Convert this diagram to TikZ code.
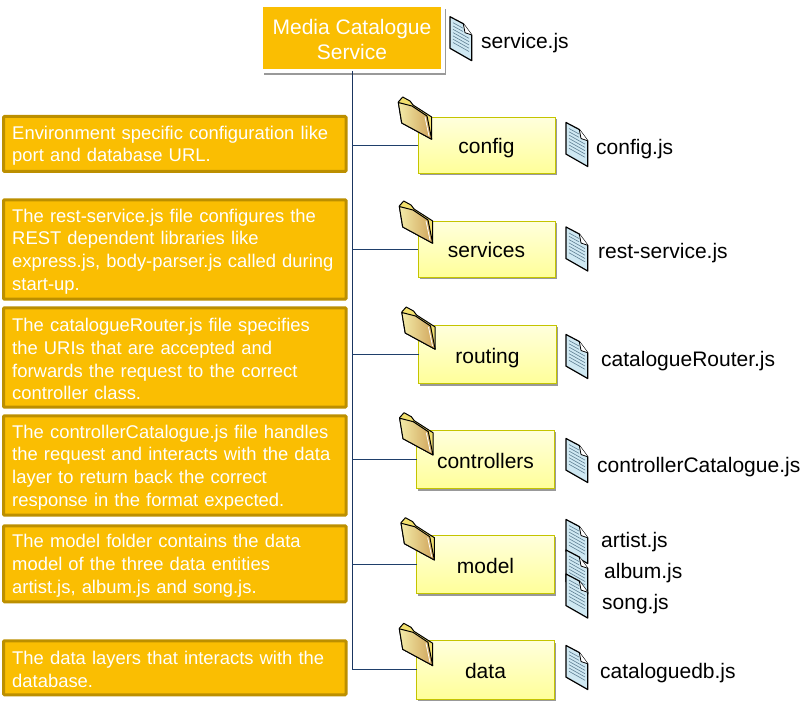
\documentclass[tikz,border=0pt]{standalone}
\usepackage{fontspec}
\setmainfont{Liberation Sans}
\usetikzlibrary{shadows,calc}
\definecolor{amber}{HTML}{FABE02}
\definecolor{amberdk}{HTML}{BC8F00}
\definecolor{trunk}{HTML}{1A3560}
\definecolor{branch}{HTML}{1F3F6B}
\definecolor{foldedge}{HTML}{C4C400}
\definecolor{boxtop}{HTML}{FFFFDC}
\definecolor{boxbot}{HTML}{FFFF99}
\definecolor{paper}{HTML}{CFE8F2}
\definecolor{paperline}{HTML}{5F8094}
\definecolor{fronta}{HTML}{F3EBA8}
\definecolor{frontb}{HTML}{CFA35A}
\definecolor{tabfill}{HTML}{F2E06E}
\tikzset{
  x=1pt,y=-1pt,
  note/.style={draw=amberdk,line width=3pt,fill=amber,rounded corners=1pt,text=white,anchor=north west,outer sep=0pt,inner xsep=8.5pt,inner ysep=0pt,align=left,minimum width=342.5pt,text width=325pt,font=\fontsize{18.4}{22.7}\selectfont,execute at begin node={\rule{0pt}{17pt}}},
  folderbox/.style={draw=foldedge,line width=1pt,top color=boxtop,bottom color=boxbot,minimum width=138pt,anchor=north west,outer sep=0pt,inner sep=0pt,text height=21pt,text depth=4pt,font=\fontsize{21}{24}\selectfont,text=black,drop shadow={shadow xshift=1.5pt,shadow yshift=-2pt,fill=black,opacity=0.4}},
  filelabel/.style={anchor=west,inner sep=0pt,yshift=-2pt,font=\fontsize{21}{24}\selectfont,text=black},
  link/.style={draw=branch,line width=1pt},
  fileicon/.pic={
    \draw[fill=paper,draw=black,line width=1.2pt,line join=round]
      (0,0) -- (13.3,7) -- (21.7,18.3) -- (21.7,44) -- (0,31.6) -- cycle;
    \foreach \i in {0,...,6}{
      \draw[draw=paperline,line width=.6pt] (3,{6+\i*3.3}) -- ({\i<2 ? 13 : 19},{(\i<2 ? 11.5 : 15)+\i*3.3});
    }
    \draw[fill=white,draw=black,line width=.8pt,line join=round] (13.3,7) -- (15,16) -- (21.7,18.3);
  },
  foldericon/.pic={
    \draw[fill=tabfill,draw=black,line width=1pt,line join=round]
      (0.3,5) -- (4.7,0) -- (12,4) -- (15,8) -- (33.7,20) -- (33.7,42.3) -- (3.7,26) -- cycle;
    \shade[left color=fronta,right color=frontb,draw=black,line width=1pt,line join=round]
      (0.3,5.5) -- (14,9) -- (29,19) -- (33.7,42.3) -- (3.7,26) -- cycle;
    \draw[draw=white,line width=.8pt] (27,20) -- (31,39);
  },
}
\begin{document}
\begin{tikzpicture}
\useasboundingbox (0,0) rectangle (812,708);
% root
\node[draw=white,line width=4pt,fill=amber,minimum width=182pt,minimum height=66pt,anchor=north west,outer sep=0pt,inner sep=0pt,align=center,text=white,font=\fontsize{21}{25}\selectfont,drop shadow={shadow xshift=2.5pt,shadow yshift=-4pt,fill=black,opacity=0.4}] (root) at (261,5) {\rule{0pt}{18pt}Media Catalogue\\Service};
% left notes
\node[note,minimum height=55pt] (n1) at (3.5,116.5) {Environment specific configuration like\\port and database URL.};
\node[note,minimum height=99.4pt] (n2) at (3.5,199.8) {The rest-service.js file configures the\\REST dependent libraries like\\express.js, body-parser.js called during\\start-up.};
\node[note,minimum height=99.4pt] (n3) at (3.5,307.8) {The catalogueRouter.js file specifies\\the URIs that are accepted and\\forwards the request to the correct\\controller class.};
\node[note,minimum height=99.4pt] (n4) at (3.5,415.8) {The controllerCatalogue.js file handles\\the request and interacts with the data\\layer to return back the correct\\response in the format expected.};
\node[note,minimum height=76pt] (n5) at (3.5,525.8) {The model folder contains the data\\model of the three data entities\\artist.js, album.js and song.js.};
\node[note,minimum height=54pt] (n6) at (3.5,640.8) {The data layers that interacts with the\\database.};
% folder boxes
\node[folderbox,minimum width=137pt,minimum height=56pt] (config) at (418,117.5) {config};
\node[folderbox,minimum width=137pt,minimum height=56pt] (services) at (418,221.5) {services};
\node[folderbox,minimum height=58.5pt] (routing) at (418.5,325.5) {routing};
\node[folderbox,minimum height=58.5pt] (controllers) at (416.5,430.5) {controllers};
\node[folderbox,minimum height=58.5pt] (model) at (416.5,535.5) {model};
\node[folderbox,minimum height=58.5pt] (data) at (416.5,640.5) {data};
% connectors
\coordinate (trunkend) at ($(data.west -| root.south)$);
\draw[draw=trunk,line width=1pt] (root.south) -- (trunkend);
\foreach \b in {config,services,routing,controllers,model,data}{
  \draw[link] (\b.west -| root.south) -- (\b.west);
}
% folder icons
\pic at (398,97) {foldericon};
\pic at (399,201) {foldericon};
\pic at (401.5,307) {foldericon};
\pic at (399.3,412.7) {foldericon};
\pic at (400.7,517.7) {foldericon};
\pic at (399,623.3) {foldericon};
% file icons
\pic at (450,16.7) {fileicon};
\pic at (566,122.5) {fileicon};
\pic at (566,227) {fileicon};
\pic at (566,334.5) {fileicon};
\pic at (566,438.5) {fileicon};
\pic at (566,519.5) {fileicon};
\pic at (566,550) {fileicon};
\pic at (566,574) {fileicon};
\pic at (566,645.5) {fileicon};
% file labels
\node[filelabel] (f0) at (481,41) {service.js};
\node[filelabel] (f1) at (596,147) {config.js};
\node[filelabel] (f2) at (598,251) {rest-service.js};
\node[filelabel] (f3) at (601,359) {catalogueRouter.js};
\node[filelabel] (f4) at (597,465) {controllerCatalogue.js};
\node[filelabel] (f5) at (601,540) {artist.js};
\node[filelabel] (f6) at (604,571) {album.js};
\node[filelabel] (f7) at (602,602) {song.js};
\node[filelabel] (f8) at (600,671) {cataloguedb.js};
\end{tikzpicture}
\end{document}
